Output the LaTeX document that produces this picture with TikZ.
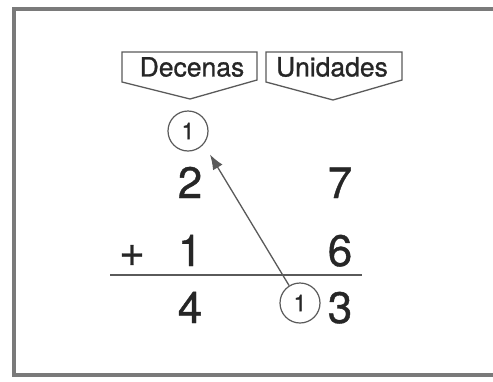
\documentclass[tikz,border=0pt]{standalone}
\usepackage{fontspec}
\setmainfont{TeX Gyre Heros}
\newfontfamily\heavyfont[FakeBold=0.9]{TeX Gyre Heros}
\usetikzlibrary{arrows.meta}
\definecolor{framegray}{HTML}{7A7A7A}
\definecolor{linegray}{HTML}{5A5A5A}
\definecolor{inkc}{HTML}{262626}
\tikzset{
  digit/.style={anchor=base, inner sep=0pt, text=inkc, font=\heavyfont\fontsize{44}{44}\selectfont},
  tagtext/.style={inner sep=0pt, text=inkc, font=\heavyfont\fontsize{26.5}{26.5}\selectfont},
  tagshape/.style={draw=linegray, line width=1.3pt, line join=miter},
  carry/.style={circle, draw=linegray, line width=1.2pt, minimum size=40pt, inner sep=0pt, text=inkc, font=\heavyfont\fontsize{23}{23}\selectfont},
  carryarrow/.style={draw=linegray, line width=1.3pt, -{Latex[length=15pt,width=11pt]}},
}
\begin{document}
\begin{tikzpicture}[x=1pt,y=-1pt]
\useasboundingbox (0,0) rectangle (493,381);
\fill[white] (0,0) rectangle (493,381);
% frame (right side runs off the picture)
\draw[framegray, line width=3.5pt] (510,9) -- (14,9) -- (14,375) -- (510,375);
% tags
\draw[tagshape] (122,52) -- (257,52) -- (257,80) -- (190,99) -- (122,82) -- cycle;
\node[tagtext] (dec) at (192,67) {Decenas};
\draw[tagshape] (266,52) -- (402,52) -- (402,80) -- (333,100) -- (266,82) -- cycle;
\node[tagtext] (uni) at (332,67) {Unidades};
% carry top
\node[carry] (c1) at (188,131) {1};
% digits
\node[digit] (d2) at (190,198) {2};
\node[digit] (d7) at (340,198) {7};
\node[digit] (plus) at (132,266) {+};
\node[digit] (d1) at (190,266) {1};
\node[digit] (d6) at (340,266) {6};
\draw[linegray, line width=2.6pt] (110,275) -- (362,275);
\node[digit] (d4) at (190,323) {4};
\node[digit] (d3) at (340,323) {3};
\node[carry] (c2) at (300,303) {1};
% arrow
\draw[carryarrow, shorten >=12pt] (c2.122) -- (c1.-40);
\end{tikzpicture}
\end{document}
